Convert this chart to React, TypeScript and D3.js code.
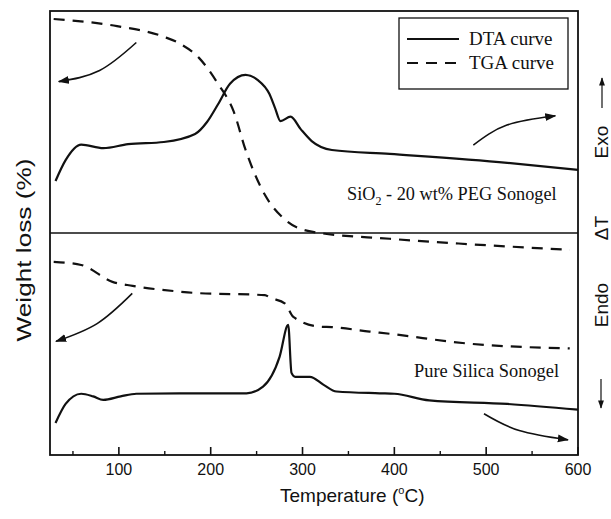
import * as d3 from "d3";

// temperature (°C) and signal in arbitrary units (0 = bottom of frame, 100 = top)
const dtaUpperT = [31, 42, 59, 83, 110, 149, 183, 196, 208, 221, 238, 251, 264, 270, 276, 287, 298, 310, 332, 395, 523, 600];
const dtaUpperV = [61.7, 66.4, 69.9, 69.1, 70.0, 70.5, 72.3, 75.0, 79.0, 83.6, 85.6, 84.5, 81.3, 78.2, 75.2, 76.2, 73.4, 70.7, 68.7, 67.8, 65.8, 64.2];

const tgaUpperT = [29, 98, 149, 166, 187, 208, 225, 238, 259, 281, 310, 395, 480, 591];
const tgaUpperV = [98.2, 96.6, 94.2, 92.7, 89.5, 83.6, 77.4, 68.7, 58.6, 53.0, 50.3, 48.7, 47.5, 46.2];

const dtaLowerT = [31, 42, 59, 72, 83, 102, 119, 166, 239, 257, 275, 284.4, 288, 292, 308, 323, 337, 384, 400, 438, 523, 600];
const dtaLowerV = [7.2, 11.5, 13.8, 13.2, 12.4, 13.2, 13.8, 13.9, 13.9, 15.4, 22.1, 29.3, 18.5, 17.6, 17.6, 15.8, 14.3, 13.9, 13.8, 12.3, 11.5, 10.2];

const tgaLowerT = [29, 59, 93, 115, 166, 183, 259, 265, 281, 290, 319, 332, 373, 395, 480, 591];
const tgaLowerV = [43.5, 42.8, 39.0, 38.1, 36.8, 36.5, 36.0, 35.4, 34.1, 31.1, 28.9, 28.8, 27.8, 27.3, 25.1, 24.0];

// guide arrows: [start, middle, end] pairs of (T, value)
const arrowPaths: [number, number][][] = [
  [[119, 92.9], [79, 86.6], [34.6, 84.1]],
  [[114.6, 36.4], [76.3, 29.6], [31.6, 25.6]],
  [[486, 69.8], [522.6, 74.3], [575.3, 76.4]],
  [[497.6, 9.3], [536, 5.5], [589, 3.4]],
];

const majorTicks = [100, 200, 300, 400, 500, 600];
const minorTicks = [50, 150, 250, 350, 450, 550];

const width = 611;
const height = 519;
const margin = { left: 50, right: 33, top: 11, bottom: 64 };

const sans = "'Liberation Sans', Arial, sans-serif";
const serif = "'Liberation Serif', 'Times New Roman', serif";

const App = () => {
  const x = d3.scaleLinear().domain([25, 600]).range([margin.left, width - margin.right]);
  const y = d3.scaleLinear().domain([0, 100]).range([height - margin.bottom, margin.top]);

  const line = d3
    .line<[number, number]>()
    .x((d) => x(d[0]))
    .y((d) => y(d[1]))
    .curve(d3.curveMonotoneX);

  const arrowLine = d3
    .line<[number, number]>()
    .x((d) => x(d[0]))
    .y((d) => y(d[1]))
    .curve(d3.curveNatural);

  const zip = (a: number[], b: number[]) => a.map((t, i) => [t, b[i]] as [number, number]);

  const x0 = margin.left;
  const x1 = width - margin.right;
  const yTop = margin.top;
  const yBot = height - margin.bottom;
  const yMid = y(50);

  return (
    <svg
      width={width}
      height={height}
      style={{ position: "absolute", left: 0, top: 0, background: "#fff" }}
    >
      <defs>
        <marker id="head" viewBox="0 0 10 10" refX="9" refY="5" markerWidth="7" markerHeight="7" orient="auto">
          <path d="M0,1.5 L10,5 L0,8.5 z" fill="#111" />
        </marker>
      </defs>

      {/* curves */}
      <path d={line(zip(dtaUpperT, dtaUpperV)) || ""} fill="none" stroke="#111" strokeWidth={2.2} />
      <path d={line(zip(dtaLowerT, dtaLowerV)) || ""} fill="none" stroke="#111" strokeWidth={2.2} />
      <path d={line(zip(tgaUpperT, tgaUpperV)) || ""} fill="none" stroke="#111" strokeWidth={2.2} strokeDasharray="11,8" />
      <path d={line(zip(tgaLowerT, tgaLowerV)) || ""} fill="none" stroke="#111" strokeWidth={2.2} strokeDasharray="11,8" />

      {arrowPaths.map((p, i) => (
        <path key={i} d={arrowLine(p) || ""} fill="none" stroke="#111" strokeWidth={1.6} markerEnd="url(#head)" />
      ))}

      {/* frame */}
      <rect x={x0} y={yTop} width={x1 - x0} height={yBot - yTop} fill="none" stroke="#111" strokeWidth={1.8} />
      <line x1={x0} x2={x1} y1={yMid} y2={yMid} stroke="#111" strokeWidth={1.6} />

      {/* ticks */}
      {majorTicks.map((t) => (
        <line key={"M" + t} x1={x(t)} x2={x(t)} y1={yBot} y2={yBot - 8} stroke="#111" strokeWidth={1.6} />
      ))}
      {minorTicks.map((t) => (
        <line key={"m" + t} x1={x(t)} x2={x(t)} y1={yBot} y2={yBot - 4} stroke="#111" strokeWidth={1.4} />
      ))}
      {majorTicks.map((t) => (
        <text key={"l" + t} x={x(t)} y={475} textAnchor="middle" fontFamily={sans} fontSize={16} fill="#111">
          {t}
        </text>
      ))}

      <text x={280} y={502} fontFamily={sans} fontSize={19} fill="#111">
        Temperature (<tspan fontSize={11} dy={-8}>o</tspan>
        <tspan dy={8}>C)</tspan>
      </text>

      <text
        transform="translate(31,250) rotate(-90)"
        textAnchor="middle"
        fontFamily={sans}
        fontSize={21}
        fill="#111"
        textLength={183}
        lengthAdjust="spacingAndGlyphs"
      >
        Weight loss (%)
      </text>

      {/* right side labels */}
      <text transform="translate(608,142) rotate(-90)" textAnchor="middle" fontFamily={sans} fontSize={19} fill="#111">
        Exo
      </text>
      <text transform="translate(608,228) rotate(-90)" textAnchor="middle" fontFamily={sans} fontSize={19} fill="#111">
        ΔT
      </text>
      <text transform="translate(608,305) rotate(-90)" textAnchor="middle" fontFamily={sans} fontSize={19} fill="#111">
        Endo
      </text>
      <line x1={602} x2={602} y1={108} y2={78} stroke="#111" strokeWidth={1.2} markerEnd="url(#head)" />
      <line x1={601} x2={601} y1={379} y2={408} stroke="#111" strokeWidth={1.2} markerEnd="url(#head)" />

      {/* panel labels */}
      <text x={347} y={200} fontFamily={serif} fontSize={18.3} fill="#111">
        SiO<tspan fontSize={12} dy={5}>2</tspan>
        <tspan dy={-5}> - 20 wt% PEG Sonogel</tspan>
      </text>
      <text x={414} y={377} fontFamily={serif} fontSize={18.4} fill="#111">
        Pure Silica Sonogel
      </text>

      {/* legend */}
      <rect x={399} y={18} width={169} height={71} fill="#fff" stroke="#111" strokeWidth={1.3} />
      <line x1={407} x2={459} y1={39} y2={39} stroke="#111" strokeWidth={2} />
      <line x1={407} x2={459} y1={63} y2={63} stroke="#111" strokeWidth={2} strokeDasharray="11,8" />
      <text x={469} y={45} fontFamily={serif} fontSize={19} fill="#111">
        DTA curve
      </text>
      <text x={469} y={69} fontFamily={serif} fontSize={19} fill="#111">
        TGA curve
      </text>
    </svg>
  );
};

export default App;
